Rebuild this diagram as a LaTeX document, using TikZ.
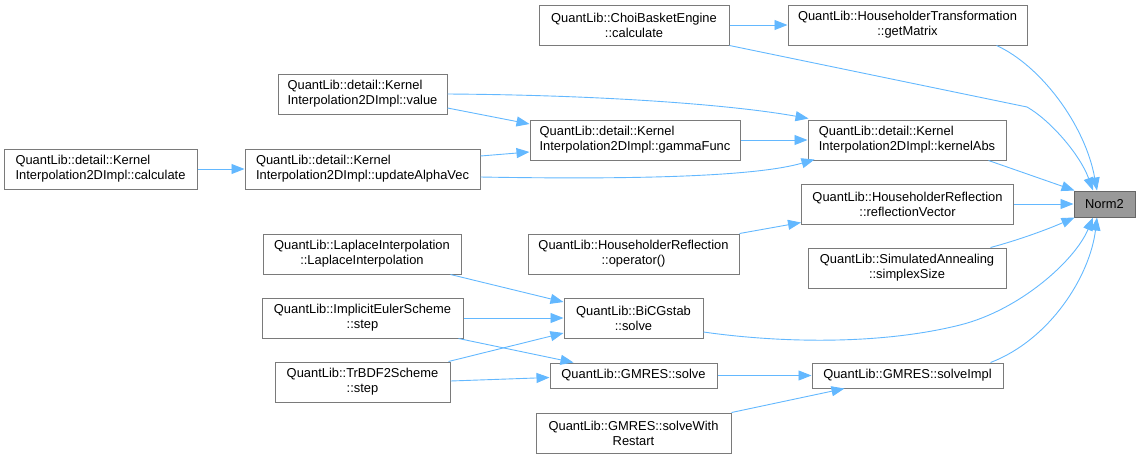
\documentclass[tikz,border=0pt]{standalone}
\usepackage{fontspec}
\setmainfont{Liberation Sans}
\usetikzlibrary{arrows.meta,calc}
\definecolor{edgeblue}{HTML}{63B8FF}
\definecolor{boxgray}{HTML}{7A7A7A}
\definecolor{curfill}{HTML}{999999}
\definecolor{curdraw}{HTML}{666666}
\begin{document}
\begin{tikzpicture}[x=1pt,y=-1pt,
  box/.style={draw=boxgray,line width=1pt,fill=white,inner sep=0pt,align=center,
    font=\fontsize{12.9}{15}\selectfont,minimum height=40pt},
  lbox/.style={box,align=left},
  onebox/.style={box,minimum height=25pt},
  curbox/.style={box,minimum height=26pt,fill=curfill,draw=curdraw},
  edge/.style={draw=edgeblue,line width=0.9pt,-{Triangle[length=13pt,width=10pt]}},
  seg/.style={draw=edgeblue,line width=0.9pt}]
\useasboundingbox (0,0) rectangle (1140,459);
% nodes
\node[box,minimum width=190pt] (choi) at (634,25) {QuantLib::ChoiBasketEngine\\::calculate};
\node[box,minimum width=239pt] (getm) at (907.5,25) {QuantLib::HouseholderTransformation\\::getMatrix};
\node[lbox,minimum width=169pt] (value) at (362.5,94) {QuantLib::detail::Kernel\\Interpolation2DImpl::value};
\node[lbox,minimum width=210pt] (gamma) at (635,140) {QuantLib::detail::Kernel\\Interpolation2DImpl::gammaFunc};
\node[lbox,minimum width=198pt] (kabs) at (907,140) {QuantLib::detail::Kernel\\Interpolation2DImpl::kernelAbs};
\node[curbox,minimum width=61pt] (norm) at (1104.5,204) {Norm2};
\node[box,minimum width=212pt] (refl) at (907.5,204) {QuantLib::HouseholderReflection\\::reflectionVector};
\node[box,minimum width=198pt] (simp) at (907,268) {QuantLib::SimulatedAnnealing\\::simplexSize};
\node[lbox,minimum width=193pt] (calc) at (100.5,169) {QuantLib::detail::Kernel\\Interpolation2DImpl::calculate};
\node[lbox,minimum width=235pt] (upd) at (362.5,169) {QuantLib::detail::Kernel\\Interpolation2DImpl::updateAlphaVec};
\node[box,minimum width=211pt] (oper) at (633.5,254) {QuantLib::HouseholderReflection\\::operator()};
\node[box,minimum width=198pt] (lap) at (362,254) {QuantLib::LaplaceInterpolation\\::LaplaceInterpolation};
\node[box,minimum width=201pt] (impl) at (362.5,318) {QuantLib::ImplicitEulerScheme\\::step};
\node[box,minimum width=175pt] (trbdf) at (362.5,382) {QuantLib::TrBDF2Scheme\\::step};
\node[box,minimum width=139pt] (bicg) at (633.5,318) {QuantLib::BiCGstab\\::solve};
\node[onebox,minimum width=167pt] (gsolve) at (633.5,375.5) {QuantLib::GMRES::solve};
\node[box,minimum width=195pt] (gwr) at (633.5,433) {QuantLib::GMRES::solveWith\\Restart};
\node[onebox,minimum width=191pt] (gimpl) at (907.5,375.5) {QuantLib::GMRES::solveImpl};
% free bend points
\coordinate (cbend) at (1027,107);
\coordinate (bbend) at (960,325);
% edges
\path[edge] (choi.east) -- (getm.west);
\path[edge] ($(getm.south east)+(-31,0)$) .. controls +(44,20) and +(-12,-66) .. ($(norm.north)+(-7.5,0)$);
\path[seg] (choi.south east) -- (cbend);
\path[edge] (cbend) .. controls +(23,13) and +(-13,-36) .. ($(norm.north)+(-11.5,0)$);
\path[edge] (value.east) .. controls +(153,1) and +(-78,-14) .. ($(kabs.north west)+(1,-1)$);
\path[edge] ($(value.east)+(0,14)$) -- ($(gamma.west)+(0,-16)$);
\path[edge] ($(upd.east)+(0,-13)$) -- ($(gamma.west)+(0,12)$);
\path[edge] ($(upd.east)+(0,8)$) .. controls +(170,3) and +(-55,16) .. ($(kabs.south west)+(7,-1)$);
\path[edge] (gamma.east) -- (kabs.west);
\path[edge] (calc.east) -- (upd.west);
\path[edge] ($(kabs.south east)+(-18,0)$) -- ($(norm.north west)+(1,0)$);
\path[edge] (refl.east) -- (norm.west);
\path[edge] (oper.north east) -- ($(refl.south west)+(0,-2)$);
\path[edge] ($(simp.north east)+(-16,0)$) .. controls +(30,-8) and +(-25,11) .. ($(norm.south west)+(1,0)$);
\path[edge] ($(lap.south east)+(-11,0)$) -- ($(bicg.west)+(0,-16)$);
\path[edge] (impl.east) -- (bicg.west);
\path[edge] ($(impl.south east)+(-5,0)$) -- ($(gsolve.north west)+(24,0)$);
\path[edge] ($(trbdf.north east)+(-2,0)$) -- ($(bicg.west)+(0,15)$);
\path[edge] ($(trbdf.east)+(0,-1)$) -- ($(gsolve.west)+(0,2)$);
\path[seg] ($(bicg.east)+(0,14)$) .. controls +(77,11) and +(-80,20) .. (bbend);
\path[edge] (bbend) .. controls +(60,-15) and +(-18,43) .. ($(norm.south)+(-11.5,0)$);
\path[edge] (gsolve.east) -- (gimpl.west);
\path[edge] (gwr.north east) -- ($(gimpl.south west)+(33,0)$);
\path[edge] ($(gimpl.north east)+(-13,0)$) .. controls +(60,-23) and +(-7,58) .. ($(norm.south)+(-7.5,0)$);
\end{tikzpicture}
\end{document}
